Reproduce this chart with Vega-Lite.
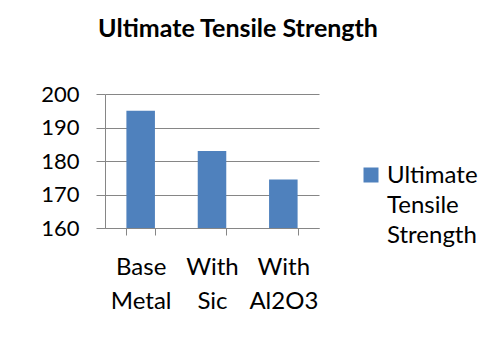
{
  "$schema": "https://vega.github.io/schema/vega-lite/v6.json",
  "width": 214,
  "height": 134,
  "autosize": "none",
  "padding": {"left": 105, "top": 94, "right": 175, "bottom": 116},
  "background": "white",
  "config": {"view": {"stroke": null}},
  "title": {
    "text": "Ultimate Tensile Strength",
    "font": "Lato",
    "fontSize": 25,
    "fontWeight": "bold",
    "color": "black",
    "anchor": "middle",
    "baseline": "alphabetic",
    "dx": 26,
    "offset": 21
  },
  "data": {
    "values": [
      {"Material": "Base Metal", "Series": "Ultimate Tensile Strength", "Strength": 195},
      {"Material": "With Sic", "Series": "Ultimate Tensile Strength", "Strength": 183},
      {"Material": "With Al2O3", "Series": "Ultimate Tensile Strength", "Strength": 174.5}
    ]
  },
  "mark": {"type": "bar", "color": "#4F81BD"},
  "encoding": {
    "x": {
      "field": "Material",
      "type": "nominal",
      "sort": null,
      "scale": {"paddingInner": 0.6, "paddingOuter": 0.3},
      "axis": {
        "title": null,
        "labelAngle": 0,
        "labelExpr": "split(datum.label, ' ')",
        "labelFont": "Lato",
        "labelFontSize": 24,
        "labelColor": "black",
        "labelLineHeight": 34,
        "labelPadding": 20,
        "labelLimit": 0,
        "tickBand": "extent",
        "tickSize": 7,
        "tickColor": "#868686",
        "domainColor": "#868686"
      }
    },
    "y": {
      "field": "Strength",
      "type": "quantitative",
      "scale": {"domain": [160, 200], "zero": false, "nice": false},
      "axis": {
        "title": null,
        "values": [160, 170, 180, 190, 200],
        "tickSize": 9,
        "tickColor": "#868686",
        "gridColor": "#868686",
        "gridOpacity": 1,
        "domainColor": "#868686",
        "labelFont": "Lato",
        "labelFontSize": 22,
        "labelColor": "black",
        "labelPadding": 17
      }
    },
    "y2": {"datum": 160},
    "color": {
      "field": "Series",
      "type": "nominal",
      "scale": {"range": ["#4F81BD"]},
      "legend": {
        "title": null,
        "orient": "none",
        "legendX": 254,
        "legendY": 69,
        "padding": 0,
        "symbolType": "square",
        "symbolSize": 225,
        "symbolStrokeWidth": 0,
        "symbolOpacity": 1,
        "labelFont": "Lato",
        "labelFontSize": 24,
        "labelColor": "black",
        "labelOffset": 4,
        "labelLimit": 0,
        "labelBaseline": "alphabetic",
        "labelExpr": "split(datum.label, ' ')",
        "encode": {"labels": {"update": {"lineHeight": {"value": 30}, "dy": {"value": 8}}}}
      }
    }
  }
}
